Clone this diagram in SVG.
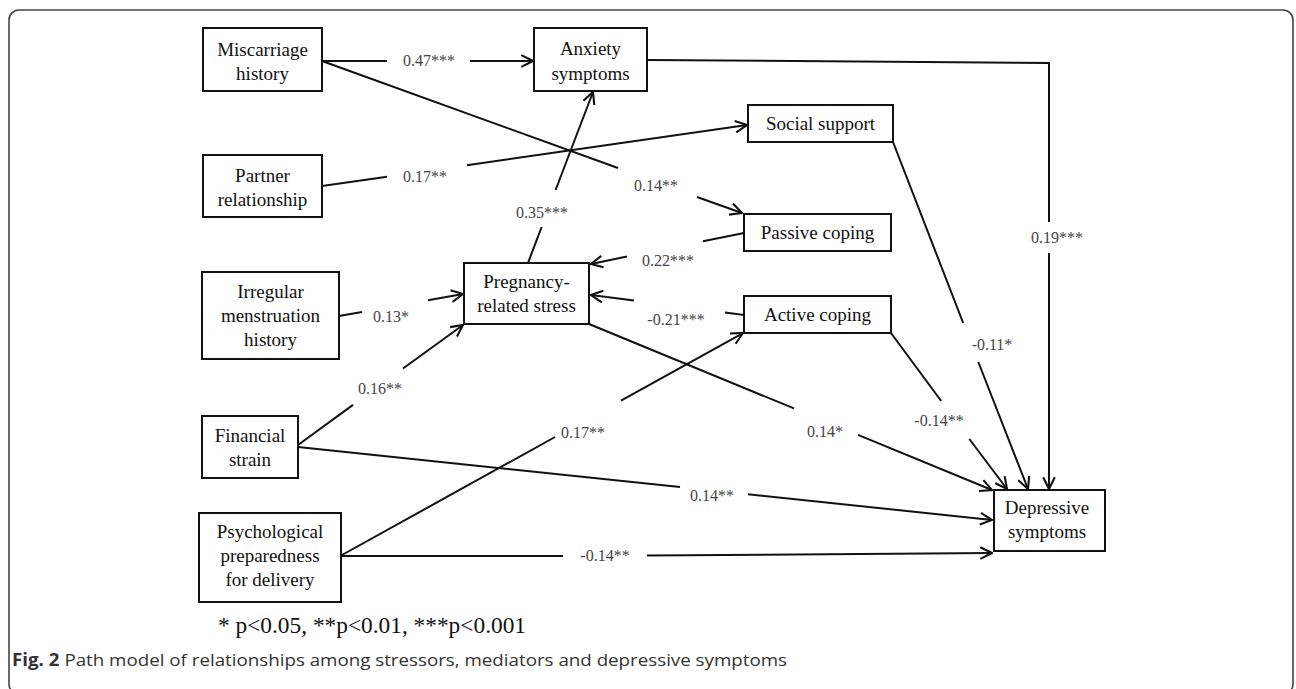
<svg xmlns="http://www.w3.org/2000/svg" width="1296" height="689" viewBox="0 0 1296 689">
<defs>
<marker id="arr" markerUnits="userSpaceOnUse" markerWidth="14" markerHeight="14" viewBox="0 0 12 12" refX="11" refY="6" orient="auto">
<path d="M1,1 L11,6 L1,11" fill="none" stroke="#111" stroke-width="1.8"/>
</marker>
<style>
.box{fill:#fff;stroke:#111;stroke-width:2}
.nt{font-family:"Liberation Serif","Times New Roman",serif;font-size:19px;fill:#111;text-anchor:middle}
.el{font-family:"Liberation Serif","Times New Roman",serif;font-size:16px;fill:#444;text-anchor:middle}
.ln{fill:none;stroke:#111;stroke-width:2}
.ar{fill:none;stroke:#111;stroke-width:2;marker-end:url(#arr)}
</style>
</defs>
<rect x="0" y="0" width="1296" height="689" fill="#fff"/>
<rect x="9" y="10" width="1284" height="684" rx="10" ry="10" fill="none" stroke="#444" stroke-width="1.6"/>

<g id="connectors">
<line class="ln" x1="322" y1="61" x2="387" y2="61"/>
<line class="ar" x1="470" y1="61" x2="533" y2="61"/>
<line class="ln" x1="322" y1="61" x2="618" y2="168"/>
<line class="ar" x1="697" y1="197" x2="742" y2="213"/>
<line class="ln" x1="322" y1="186" x2="387" y2="176.7"/>
<line class="ar" x1="467" y1="165.2" x2="747" y2="125"/>
<line class="ln" x1="528" y1="263" x2="541.6" y2="227"/>
<line class="ar" x1="555.6" y1="190" x2="593" y2="92"/>
<line class="ln" x1="744" y1="233" x2="703" y2="241.3"/>
<line class="ar" x1="627" y1="256.5" x2="591" y2="264"/>
<line class="ln" x1="744" y1="315" x2="725" y2="312.5"/>
<line class="ar" x1="634" y1="300.6" x2="591" y2="295"/>
<line class="ln" x1="342" y1="555" x2="555" y2="437"/>
<line class="ar" x1="621" y1="400.5" x2="743" y2="333"/>
<line class="ln" x1="298" y1="445" x2="353" y2="404.9"/>
<line class="ar" x1="403" y1="368.5" x2="463" y2="325"/>
<line class="ln" x1="339" y1="316" x2="362" y2="312"/>
<line class="ar" x1="428" y1="300.3" x2="463" y2="294"/>
<line class="ln" x1="298" y1="447" x2="680" y2="487.1"/>
<line class="ar" x1="748" y1="494.2" x2="992" y2="520"/>
<line class="ln" x1="341" y1="556" x2="563" y2="556"/>
<line class="ar" x1="647" y1="555.5" x2="992" y2="553"/>
<line class="ln" x1="589" y1="324" x2="794" y2="408.4"/>
<line class="ar" x1="858" y1="434.8" x2="992" y2="490"/>
<line class="ln" x1="891" y1="333" x2="941.2" y2="401"/>
<line class="ar" x1="969.3" y1="439" x2="1007" y2="489"/>
<line class="ln" x1="893" y1="142" x2="963.2" y2="323"/>
<line class="ar" x1="978.3" y1="362" x2="1028" y2="489"/>
<polyline class="ln" points="647,60 1049,63 1049,222"/>
<line class="ar" x1="1049" y1="253" x2="1049" y2="489"/>
</g>

<g id="edge-labels">
<text class="el" x="429" y="66">0.47***</text>
<text class="el" x="425" y="182">0.17**</text>
<text class="el" x="542" y="218">0.35***</text>
<text class="el" x="656" y="191">0.14**</text>
<text class="el" x="668" y="266">0.22***</text>
<text class="el" x="391" y="322">0.13*</text>
<text class="el" x="380" y="394">0.16**</text>
<text class="el" x="676" y="325">-0.21***</text>
<text class="el" x="583" y="438">0.17**</text>
<text class="el" x="825" y="437">0.14*</text>
<text class="el" x="939" y="426">-0.14**</text>
<text class="el" x="992" y="350">-0.11*</text>
<text class="el" x="1057" y="243">0.19***</text>
<text class="el" x="712" y="501">0.14**</text>
<text class="el" x="605" y="561">-0.14**</text>
</g>

<g id="miscarriage">
<rect class="box" x="203" y="28" width="119" height="63"/>
<text class="nt" x="262.5" y="56">Miscarriage</text>
<text class="nt" x="262.5" y="80">history</text>
</g>
<g id="anxiety">
<rect class="box" x="534" y="28" width="113" height="63"/>
<text class="nt" x="590.5" y="55">Anxiety</text>
<text class="nt" x="590.5" y="80">symptoms</text>
</g>
<g id="partner">
<rect class="box" x="203" y="155" width="119" height="62"/>
<text class="nt" x="262.5" y="182">Partner</text>
<text class="nt" x="262.5" y="206">relationship</text>
</g>
<g id="social-support">
<rect class="box" x="748" y="105" width="145" height="37"/>
<text class="nt" x="820.5" y="130">Social support</text>
</g>
<g id="passive-coping">
<rect class="box" x="744" y="214" width="147" height="37"/>
<text class="nt" x="817.5" y="239">Passive coping</text>
</g>
<g id="irregular">
<rect class="box" x="202" y="272" width="137" height="87"/>
<text class="nt" x="270.5" y="298">Irregular</text>
<text class="nt" x="270.5" y="322">menstruation</text>
<text class="nt" x="270.5" y="346">history</text>
</g>
<g id="pregnancy-stress">
<rect class="box" x="464" y="263" width="125" height="61"/>
<text class="nt" x="526.5" y="288">Pregnancy-</text>
<text class="nt" x="526.5" y="312">related stress</text>
</g>
<g id="active-coping">
<rect class="box" x="744" y="296" width="147" height="37"/>
<text class="nt" x="817.5" y="321">Active coping</text>
</g>
<g id="financial">
<rect class="box" x="202" y="416" width="96" height="62"/>
<text class="nt" x="250" y="442">Financial</text>
<text class="nt" x="250" y="466">strain</text>
</g>
<g id="psychological">
<rect class="box" x="199" y="513" width="142" height="89"/>
<text class="nt" x="270" y="538">Psychological</text>
<text class="nt" x="270" y="562">preparedness</text>
<text class="nt" x="270" y="586">for delivery</text>
</g>
<g id="depressive">
<rect class="box" x="994" y="490" width="111" height="61"/>
<text class="nt" x="1047" y="514">Depressive</text>
<text class="nt" x="1047" y="538">symptoms</text>
</g>

<text x="218" y="633" font-family="Liberation Serif, serif" font-size="23" fill="#111" textLength="308" lengthAdjust="spacingAndGlyphs">* p&lt;0.05, **p&lt;0.01, ***p&lt;0.001</text>
<text x="12" y="666" font-family="Open Sans, Noto Sans, sans-serif" font-size="17" fill="#333" textLength="775" lengthAdjust="spacingAndGlyphs"><tspan font-weight="bold">Fig. 2</tspan> Path model of relationships among stressors, mediators and depressive symptoms</text>
</svg>
